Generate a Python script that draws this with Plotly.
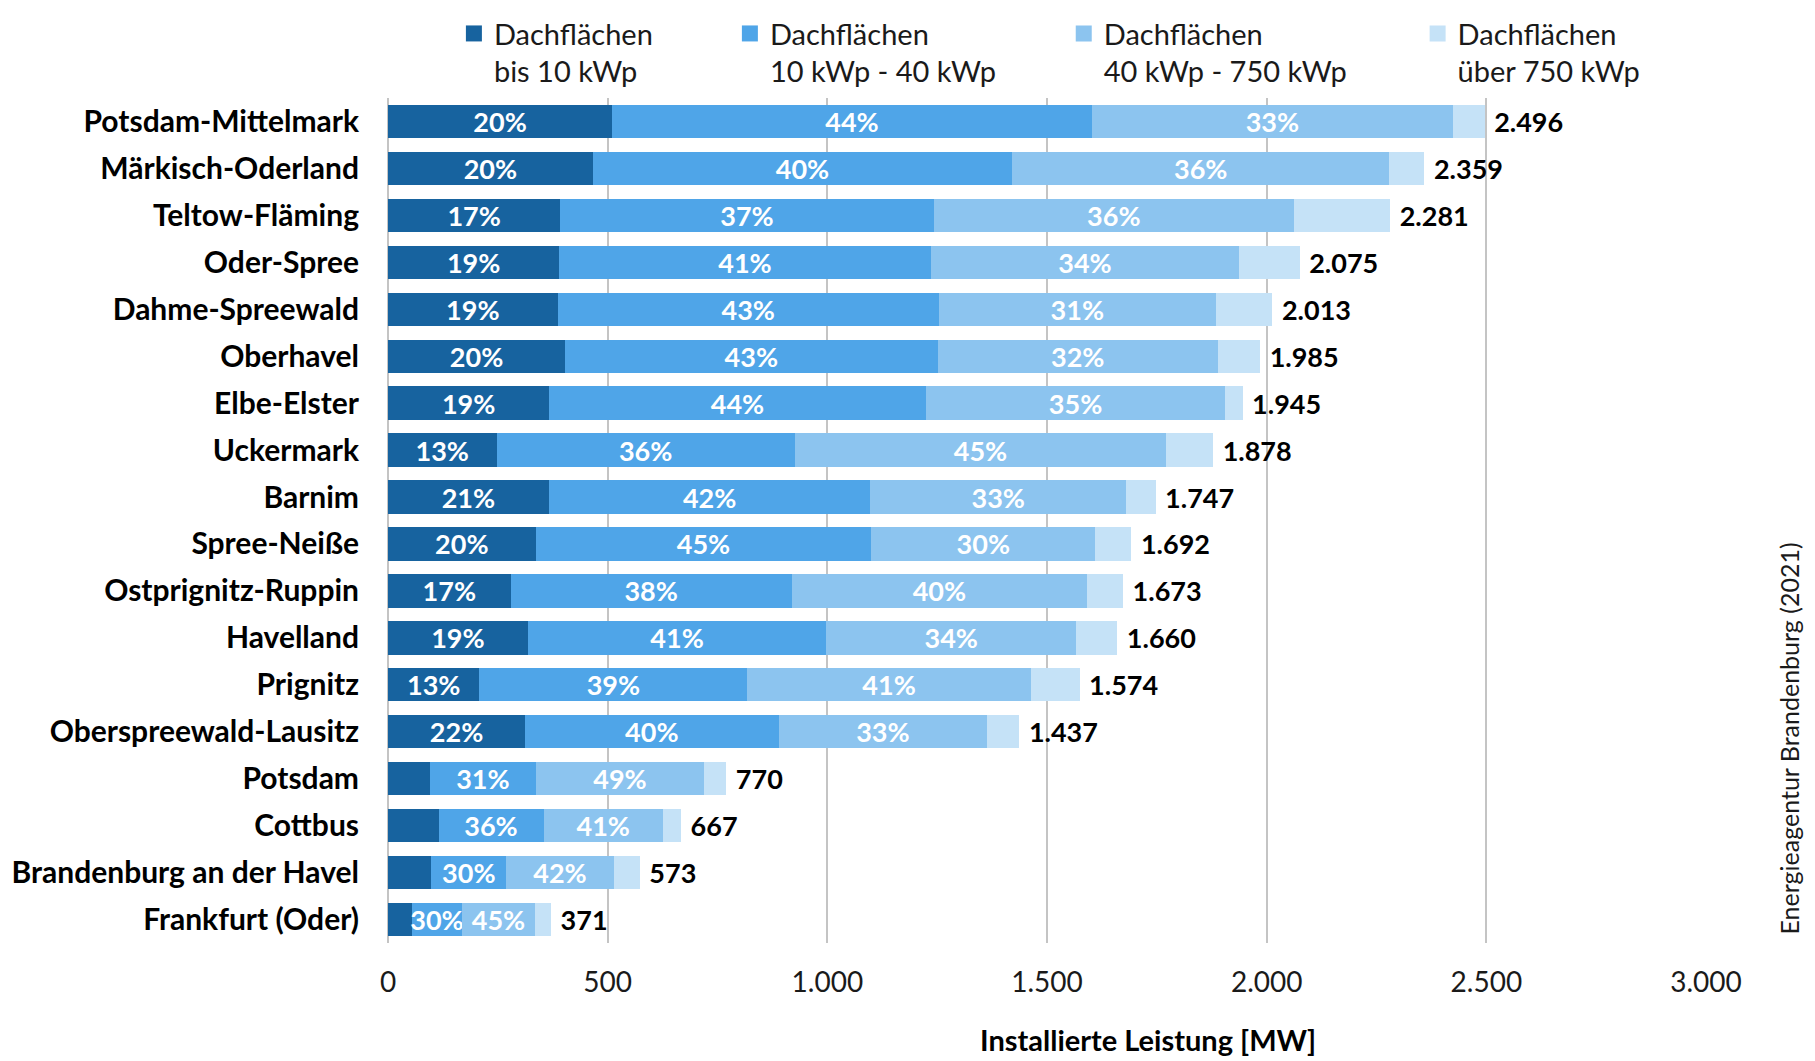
import plotly.graph_objects as go

regions = ["Potsdam-Mittelmark", "Märkisch-Oderland", "Teltow-Fläming", "Oder-Spree",
           "Dahme-Spreewald", "Oberhavel", "Elbe-Elster", "Uckermark", "Barnim",
           "Spree-Neiße", "Ostprignitz-Ruppin", "Havelland", "Prignitz",
           "Oberspreewald-Lausitz", "Potsdam", "Cottbus", "Brandenburg an der Havel",
           "Frankfurt (Oder)"]

# installed capacity in MW per roof-size class
seg_bis10 = [510, 466, 392, 390, 386, 403, 367, 247, 366, 336, 279, 318, 208, 312, 95, 115, 99, 55]
seg_10_40 = [1092, 955, 850, 845, 868, 848, 857, 679, 732, 764, 640, 680, 610, 577, 242, 239, 170, 113]
seg_40_750 = [822, 858, 820, 703, 630, 638, 682, 845, 582, 510, 672, 568, 645, 475, 382, 272, 245, 167]
seg_ueber750 = [72, 80, 219, 137, 129, 96, 39, 107, 67, 82, 82, 94, 111, 73, 51, 41, 59, 36]
totals = [2496, 2359, 2281, 2075, 2013, 1985, 1945, 1878, 1747, 1692, 1673, 1660, 1574, 1437, 770, 667, 573, 371]

# percentage labels shown in the picture
pct_bis10 = ["20%", "20%", "17%", "19%", "19%", "20%", "19%", "13%", "21%", "20%", "17%", "19%", "13%", "22%", "", "", "", ""]
pct_10_40 = ["44%", "40%", "37%", "41%", "43%", "43%", "44%", "36%", "42%", "45%", "38%", "41%", "39%", "40%", "31%", "36%", "30%", "30%"]
pct_40_750 = ["33%", "36%", "36%", "34%", "31%", "32%", "35%", "45%", "33%", "30%", "40%", "34%", "41%", "33%", "49%", "41%", "42%", "45%"]

series_names = ["Dachflächen<br>bis 10 kWp", "Dachflächen<br>10 kWp - 40 kWp",
                "Dachflächen<br>40 kWp - 750 kWp", "Dachflächen<br>über 750 kWp"]
colors = ["#17639f", "#4fa5e8", "#8cc4ef", "#c5e2f7"]

x_ticks = [0, 500, 1000, 1500, 2000, 2500, 3000]

FONT = "Lato"

total_labels = [f"{v:,}".replace(",", ".") for v in totals]

fig = go.Figure()
values = [seg_bis10, seg_10_40, seg_40_750, seg_ueber750]
texts = [pct_bis10, pct_10_40, pct_40_750, total_labels]
legend_ids = ["legend", "legend2", "legend3", "legend4"]
for i in range(4):
    if i < 3:
        fig.add_trace(go.Bar(
            y=regions, x=values[i], orientation="h", name=series_names[i],
            marker=dict(color=colors[i], line=dict(width=0)),
            text=texts[i], textposition="inside", insidetextanchor="middle",
            textangle=0, constraintext="none",
            textfont=dict(family=FONT, size=27, color="white", weight="bold"),
            showlegend=False,
        ))
    else:
        fig.add_trace(go.Bar(
            y=regions, x=values[i], orientation="h", name=series_names[i],
            marker=dict(color=colors[i], line=dict(width=0)),
            text=texts[i], texttemplate="\u00a0%{text}",
            textposition="outside", textangle=0, constraintext="none",
            textfont=dict(family=FONT, size=27, color="black", weight="bold"),
            cliponaxis=False,
            showlegend=False,
        ))

# legend entries (square swatches like the reference)
for i in range(4):
    fig.add_trace(go.Scatter(
        x=[None], y=[None], mode="markers", name=series_names[i],
        marker=dict(symbol="square", size=17, color=colors[i]),
        legend=legend_ids[i], showlegend=True, hoverinfo="skip",
    ))

leg_font = dict(family=FONT, size=29, color="#1a1a1a")
leg_x = [0.050, 0.2594, 0.5127, 0.7812]
leg_common = dict(orientation="v", yanchor="top", y=1.1064, xanchor="left",
                  font=leg_font, valign="top", bgcolor="rgba(0,0,0,0)",
                  borderwidth=0, tracegroupgap=0, itemsizing="trace", visible=True)

fig.update_layout(
    showlegend=True,
    barmode="stack",
    bargap=0.29,
    width=1807, height=1053,
    margin=dict(l=380, r=108.5, t=90, b=117.5, autoexpand=False),
    paper_bgcolor="white", plot_bgcolor="white",
    separators=",.",
    font=dict(family=FONT, color="black"),
    legend=dict(x=leg_x[0], **leg_common),
    legend2=dict(x=leg_x[1], **leg_common),
    legend3=dict(x=leg_x[2], **leg_common),
    legend4=dict(x=leg_x[3], **leg_common),
    xaxis=dict(range=[0, 3000], tickvals=x_ticks, tickformat=",d",
               showgrid=True, gridcolor="#c4c4c4", gridwidth=2,
               zeroline=True, zerolinecolor="#c4c4c4", zerolinewidth=2,
               showline=False, ticks="", ticklabelstandoff=20,
               tickfont=dict(family=FONT, size=28, color="#1a1a1a")),
    yaxis=dict(range=[17.5, -0.5], type="category", showgrid=False,
               showline=False, ticks="", ticklabelstandoff=28,
               tickfont=dict(family=FONT, size=30, color="black", weight="bold")),
    annotations=[
        dict(text="<b>Installierte Leistung [MW]</b>", xref="paper", yref="paper",
             x=0.577, y=-0.114, xanchor="center", yanchor="middle", showarrow=False,
             font=dict(family=FONT, size=29, color="black")),
        dict(text="Energieagentur Brandenburg (2021)", xref="paper", yref="paper",
             x=1.0633, y=0.2425, xanchor="center", yanchor="middle", showarrow=False,
             textangle=-90, font=dict(family=FONT, size=25, color="#1a1a1a")),
    ],
)

fig.write_html("out.html")
